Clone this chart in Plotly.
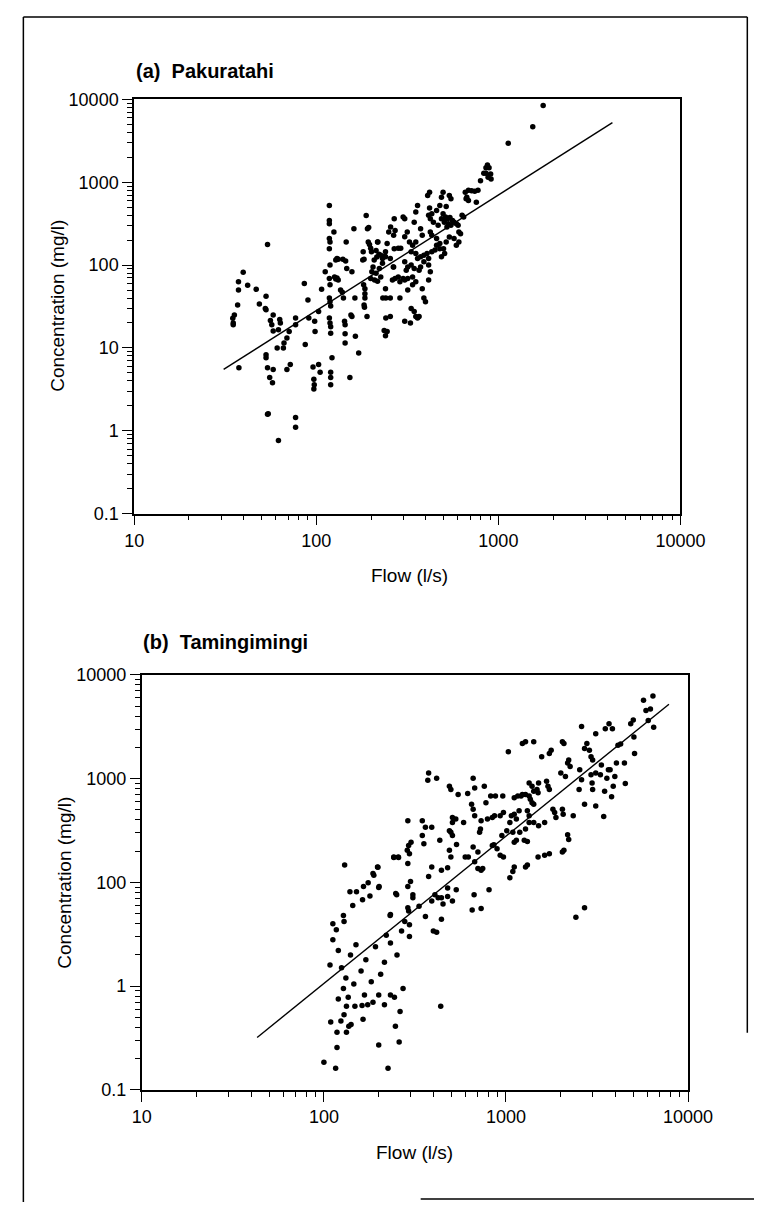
import plotly.graph_objects as go

W, H = 779, 1212
FONT = "Liberation Sans, Arial, sans-serif"

# ---- (a) Pakuratahi : flow (l/s) vs concentration (mg/l) ----
flow_a = [
    34.8, 35, 35.5, 35, 37.4, 37.4, 37, 37.6, 39.7, 42,
    46.8, 48.7, 53, 54, 52.5, 53, 56, 57, 58, 58,
    53, 53, 54, 58, 55.5, 57.5, 54, 54.5, 62, 61,
    62, 63, 63.5, 66, 66.5, 69, 71, 69, 72, 77,
    77, 77, 77, 86, 87, 90, 91, 96, 97, 97,
    97.5, 98, 98.5, 103, 103, 105, 107, 112, 118, 118,
    118, 118, 119, 118, 119, 118, 119, 118, 119, 120,
    118, 119, 120, 120, 122, 120, 120, 120, 125, 126,
    128, 130, 132, 128, 130, 132, 140, 145, 146, 147,
    136, 139, 141, 143, 144, 144, 144, 153, 157, 155,
    157, 161, 163, 164, 171, 180, 181, 183, 182, 185,
    188, 191, 194, 185, 183, 184, 185, 190, 193, 196,
    199, 201, 199, 202, 205, 208, 215, 221, 218, 232,
    236, 241, 241, 250, 256, 262, 265, 268, 268, 226,
    231, 238,
    1762, 1545, 1133, 871, 889, 855, 907, 878, 912, 832,
    798, 855, 773, 742, 685, 658, 671, 685, 665, 757,
    713, 632, 645, 538, 549, 497, 487, 419, 409, 477,
    458, 419, 431, 360, 352, 497, 513, 527, 542, 560,
    505, 532, 549, 571, 588, 601, 607, 522, 487, 517,
    414, 423, 440, 467, 517, 423, 431, 458, 477, 517,
    538, 571, 607, 620, 588, 500, 374, 382, 345, 316,
    300, 306, 271, 266, 325, 338, 352, 306, 291, 282,
    245, 240, 217, 213, 226, 240, 255, 231, 222, 213,
    209, 217, 332, 352, 360, 374, 390, 406, 414, 431,
    449, 458, 477, 507, 487, 306, 318, 312, 332, 345,
    367, 374, 390, 414, 423, 266, 271, 282, 300, 306,
    288, 318, 338, 352, 414, 240, 255, 288, 318, 338,
    382, 390, 398, 332, 345, 360, 367, 306, 329, 352,
    255, 245, 240,
]
conc_a = [
    22.9, 20, 25, 19, 63, 50, 33, 5.75, 82, 57,
    51, 34, 42, 177, 30, 29, 21.5, 19, 16, 25,
    8.3, 7.6, 5.75, 5.5, 4.4, 3.8, 1.58, 1.6, 0.76, 10,
    16.6, 22, 20, 10, 11.5, 13.2, 15.8, 5.5, 6.3, 23,
    19, 1.45, 1.1, 60, 11, 38, 23, 5.9, 4.2, 3.2,
    3.6, 21, 15.8, 27.5, 6.3, 5.1, 51, 83, 525, 347,
    316, 209, 190, 158, 100, 69, 58, 40, 36, 32,
    23, 20, 18, 15, 7.6, 5.1, 4.4, 3.6, 251, 72,
    68, 70, 66, 115, 120, 118, 118, 112, 190, 91,
    50, 47, 40, 21, 19, 14.8, 11.5, 4.4, 83, 25,
    24, 275, 40, 13.8, 8.7, 115, 145, 118, 58, 52,
    398, 275, 285, 40, 33, 31, 45, 24, 190, 178,
    160, 145, 69, 83, 95, 115, 125, 135, 190, 40,
    16.2, 23, 40, 251, 288, 66, 95, 158, 363, 72,
    120, 128,
    8470, 4700, 2965, 1614, 1500, 1500, 1260, 1150, 1096, 1290,
    1047, 1290, 800, 780, 800, 759, 661, 603, 631, 575,
    790, 400, 380, 692, 631, 759, 661, 759, 692, 525,
    457, 490, 418, 525, 437, 418, 380, 363, 375, 345,
    330, 316, 302, 330, 316, 302, 251, 288, 363, 510,
    400, 363, 330, 302, 363, 251, 229, 209, 182, 190,
    218, 209, 190, 240, 174, 158, 275, 229, 330, 251,
    380, 363, 262, 229, 190, 174, 190, 220, 160, 160,
    182, 145, 190, 150, 132, 126, 120, 105, 91, 80,
    66, 64, 145, 138, 120, 126, 132, 138, 120, 145,
    152, 174, 158, 138, 126, 110, 95, 87, 100, 91,
    87, 95, 110, 100, 83, 95, 69, 72, 69, 66,
    63, 69, 72, 63, 66, 52, 40, 40, 50, 58,
    52, 40, 36, 30, 27.5, 23, 24, 21, 20, 24,
    24, 15.8, 14,
]
fit_a_flow = [31, 4230]
fit_a_conc = [5.5, 5250]

# ---- (b) Tamingimingi ----
flow_b = [
    5690, 6410, 5870, 6210, 6040, 6470, 5000, 4840, 5040, 5080,
    4120, 4260, 4040, 4470, 4520, 3680, 3840, 3510, 3110, 3650,
    3730, 3580, 3960, 3880, 3480, 3800, 3440, 3340, 3300, 3110,
    2930, 2990, 2870, 2700, 2780, 2930, 2970, 2990, 2700, 3110,
    2600, 2540, 2600, 2520, 2420, 2700, 2340, 2180, 2250, 2210,
    2000, 2120, 2040, 2080, 2180, 2210, 2080, 2040, 1770, 1730,
    1570, 1670, 1700, 1730, 1810, 1850, 1880, 2040, 2060, 1510,
    1480, 1390, 1340, 1500, 1420, 1340, 1360, 1390, 1420, 1280,
    1230, 1210, 1160, 1110, 1230, 1280, 1420, 1030, 1630, 1510,
    1420, 1340, 1280, 1190, 1110, 1140, 1070, 1050, 1180, 1310,
    1340, 1110, 1140, 1260, 1310, 1090, 1010, 949, 929, 968,
    1500, 1630, 1730, 1310, 1280, 1110, 1090, 1050, 968, 929,
    865, 841, 791, 960, 875, 824, 841, 893, 858, 776,
    730, 724, 716, 760, 673, 660, 616, 546, 489, 498,
    660, 673, 647, 585, 530, 508, 508, 498, 508, 489,
    730, 701, 673, 745, 621, 597, 660, 701, 807, 668,
    730, 652, 535, 489, 498, 478, 442, 478, 424, 442,
    478, 533, 508, 451, 433, 391, 376, 407, 391, 416,
    376, 372, 361, 354, 347, 347, 391, 287, 292, 301,
    295, 289, 299, 289, 308, 308, 289, 292, 289, 256,
    242, 197, 186, 201, 251, 232, 278, 295, 333, 361,
    442, 399, 416, 267,
    130, 139, 151, 165, 175, 188, 198, 200, 144, 163,
    179, 231, 242, 257, 248, 112, 117, 128, 129,
    112, 120, 125, 132, 140, 150, 160, 170, 182, 192,
    205, 215, 232, 252, 272, 295, 128, 146, 108, 220,
    109, 124, 118, 118, 100, 116, 133, 137, 141, 129,
    133, 148, 162, 174, 186, 164, 200, 215, 247, 259,
    262, 225, 438, 120, 136, 167, 200, 232, 244,
]
conc_b = [
    5700, 6270, 4520, 4680, 3630, 3130, 3680, 3370, 2520, 1750,
    2100, 2150, 1410, 1410, 895, 3370, 3020, 3020, 2710, 1215,
    1215, 1010, 1050, 845, 757, 668, 432, 1355, 1090, 1130,
    1626, 1510, 1880, 1950, 2180, 1090, 908, 785, 565, 545,
    3180, 1215, 977, 785, 46, 57, 438, 1410, 1307, 1510,
    1130, 1050, 2260, 2180, 287, 259, 204, 196, 1880, 1750,
    1626, 942, 845, 785, 506, 471, 422, 506, 454, 908,
    785, 845, 908, 730, 757, 678, 631, 586, 565, 703,
    703, 678, 678, 653, 2180, 2260, 2260, 1815, 378, 352,
    378, 378, 327, 304, 454, 407, 438, 378, 489, 489,
    438, 244, 254, 254, 248, 304, 315, 283, 182, 176,
    176, 182, 189, 147, 141, 141, 127, 111, 471, 438,
    438, 422, 407, 678, 678, 678, 227, 211, 231, 586,
    393, 327, 304, 845, 813, 1010, 719, 703, 845, 785,
    506, 438, 565, 378, 407, 422, 378, 304, 283, 315,
    131, 136, 158, 136, 176, 176, 219, 196, 85, 76,
    56, 54, 232, 204, 176, 138, 131, 88, 71, 71,
    73, 85, 66, 62, 254, 141, 114, 76, 66, 1010,
    1130, 962, 339, 236, 283, 393, 339, 204, 227, 244,
    189, 152, 102, 91, 76, 71, 57, 53, 393, 176,
    176, 141, 122, 91, 76, 49, 42, 39, 59, 47,
    44, 34, 33, 34,
    147, 81, 81, 91, 99, 117, 140, 89, 60, 68,
    74, 48, 174, 174, 78, 40, 35, 48, 42,
    28, 22, 15, 12, 20, 25, 14, 18, 11, 24,
    13, 17, 26, 20, 9.5, 30, 9.5, 10.5, 16, 31,
    4.5, 4.6, 3.6, 2.56, 1.85, 1.62, 3.6, 4.1, 4.27, 5.3,
    6.4, 6.4, 6.5, 6.6, 7.0, 4.8, 2.7, 6.6, 4.1, 2.9,
    5.7, 1.62, 6.4, 7.5, 7.8, 8.2, 8.2, 8.2, 7.8,
]
fit_b_flow = [43, 7850]
fit_b_conc = [3.2, 5200]

# tick labels
x_tickvals = [10, 100, 1000, 10000]
x_ticktext = ["10", "100", "1000", "10000"]
ya_tickvals = [0.1, 1, 10, 100, 1000, 10000]
ya_ticktext = ["0.1", "1", "10", "100", "1000", "10000"]
# the printed axis of panel (b) spans four decades, labelled as in the original
yb_tickvals = [1, 10, 100, 1000, 10000]
yb_ticktext = ["0.1", "1", "100", "1000", "10000"]


def minor_vals(lo, hi):
    return [m * 10.0 ** e for e in range(lo, hi) for m in range(2, 10)]


def px(x):
    return x / W


def py(y):
    return 1 - y / H


fig = go.Figure()

for xs, ys, fx, fy, xa, ya in [
    (flow_a, conc_a, fit_a_flow, fit_a_conc, "x", "y"),
    (flow_b, conc_b, fit_b_flow, fit_b_conc, "x2", "y2"),
]:
    fig.add_trace(go.Scatter(x=fx, y=fy, mode="lines", xaxis=xa, yaxis=ya,
                             line=dict(color="black", width=1.4), showlegend=False))
    fig.add_trace(go.Scatter(x=xs, y=ys, mode="markers", xaxis=xa, yaxis=ya,
                             marker=dict(color="black", size=5.5, line=dict(width=0)),
                             showlegend=False))

axis_style = dict(
    type="log", showline=True, linecolor="black", linewidth=1.8, mirror=True,
    ticks="outside", ticklen=10, tickwidth=1.4, tickcolor="black",
    showgrid=False, zeroline=False,
    tickfont=dict(family=FONT, size=18, color="black"),
)
minor_style = dict(ticks="outside", ticklen=5, tickwidth=1, tickcolor="black", showgrid=False)

fig.update_layout(
    width=W, height=H,
    margin=dict(l=0, r=0, t=0, b=0),
    paper_bgcolor="white", plot_bgcolor="white",
    font=dict(family=FONT, color="black"),
    xaxis=dict(axis_style, domain=[px(130), px(702)], anchor="y", range=[1, 4],
               tickvals=x_tickvals, ticktext=x_ticktext,
               minor=dict(minor_style, tickvals=minor_vals(1, 4))),
    yaxis=dict(axis_style, domain=[py(512), py(91)], anchor="x", range=[-1, 4],
               tickvals=ya_tickvals, ticktext=ya_ticktext,
               minor=dict(minor_style, tickvals=minor_vals(-1, 4))),
    xaxis2=dict(axis_style, domain=[px(138), px(710)], anchor="y2", range=[1, 4],
                tickvals=x_tickvals, ticktext=x_ticktext,
                minor=dict(minor_style, tickvals=minor_vals(1, 4))),
    yaxis2=dict(axis_style, domain=[py(1098), py(676)], anchor="x2", range=[0, 4],
                tickvals=yb_tickvals, ticktext=yb_ticktext,
                minor=dict(minor_style, tickvals=minor_vals(0, 4))),
)

# panel titles and axis titles
notes = [
    ("<b>(a)  Pakuratahi</b>", 130, 62, 20, 0, "left"),
    ("<b>(b)  Tamingimingi</b>", 137, 643, 20, 0, "left"),
    ("Flow (l/s)", 418, 575, 19, 0, "center"),
    ("Flow (l/s)", 424, 1162, 19, 0, "center"),
    ("Concentration (mg/l)", 49, 301, 19, -90, "center"),
    ("Concentration (mg/l)", 57, 887, 19, -90, "center"),
]
for text, x, y, size, ang, anchor in notes:
    fig.add_annotation(text=text, x=px(x), y=py(y), xref="paper", yref="paper",
                       xanchor=anchor, yanchor="middle", textangle=ang, showarrow=False,
                       font=dict(family=FONT, size=size, color="black"))

# page frame of the scanned figure
frame = [
    (14, 7, 14, 1212),
    (14, 7, 772, 7),
    (772, 7, 772, 1040),
    (430, 1209, 779, 1209),
]
for x0, y0, x1, y1 in frame:
    fig.add_shape(type="line", xref="paper", yref="paper",
                  x0=px(x0), y0=py(y0), x1=px(x1), y1=py(y1),
                  line=dict(color="black", width=1.5))

fig.write_html("out.html", config={"displayModeBar": False},
               post_script="document.body.style.margin='0';document.body.style.overflow='hidden';")
